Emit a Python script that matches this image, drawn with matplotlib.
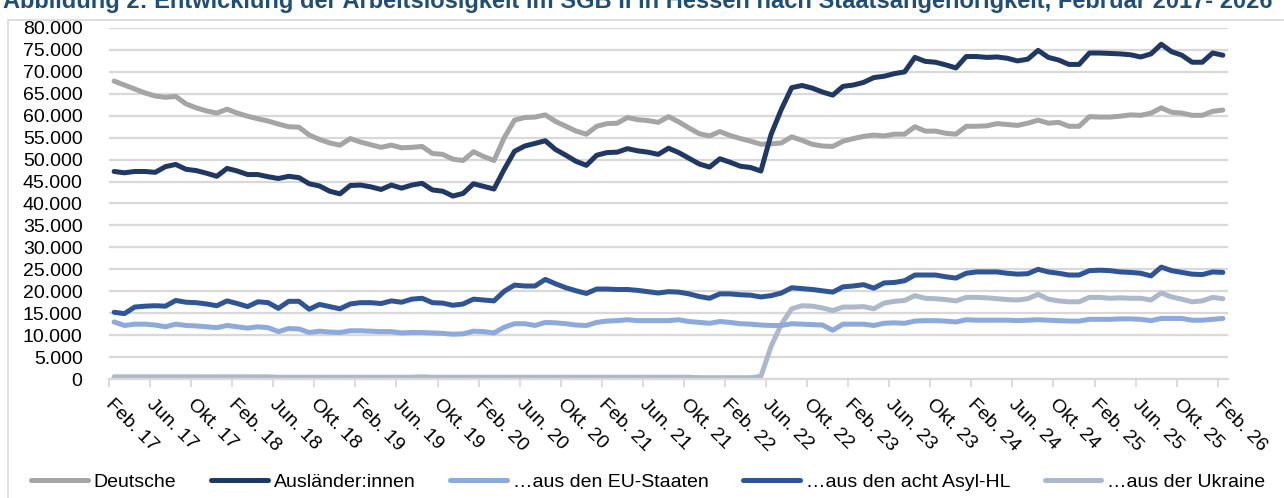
import numpy as np
import matplotlib
matplotlib.use("Agg")
import matplotlib.pyplot as plt
from matplotlib.patches import Rectangle
from matplotlib.ticker import FuncFormatter

plt.rcParams['font.family'] = ['Liberation Sans', 'DejaVu Sans']

# Arbeitslose im SGB II, Hessen, Feb. 2017 - Feb. 2026 (in Tsd.)
deutsche = [67.9, 67.0, 66.1, 65.2, 64.5, 64.2, 64.4, 62.7, 61.8, 61.1, 60.6, 61.5, 60.6, 59.9, 59.3, 58.8,
            58.1, 57.5, 57.4, 55.6, 54.6, 53.8, 53.3, 54.8, 54.0, 53.4, 52.8, 53.3, 52.7, 52.8, 53.0, 51.4,
            51.2, 50.1, 49.8, 51.8, 50.7, 49.8, 55.0, 59.0, 59.6, 59.7, 60.2, 58.7, 57.6, 56.5, 55.8, 57.6,
            58.2, 58.3, 59.6, 59.1, 58.9, 58.5, 59.8, 58.6, 57.2, 55.9, 55.4, 56.4, 55.5, 54.8, 54.2, 53.5,
            53.6, 53.8, 55.2, 54.4, 53.5, 53.1, 53.0, 54.2, 54.8, 55.3, 55.6, 55.4, 55.8, 55.8, 57.5, 56.5,
            56.5, 56.0, 55.8, 57.6, 57.6, 57.7, 58.2, 58.0, 57.8, 58.3, 59.0, 58.3, 58.5, 57.6, 57.6, 59.8,
            59.7, 59.7, 59.9, 60.2, 60.1, 60.6, 61.8, 60.8, 60.6, 60.1, 60.1, 61.0, 61.3]
auslaender = [47.3, 47.0, 47.3, 47.3, 47.1, 48.4, 48.9, 47.8, 47.5, 46.9, 46.2, 48.0, 47.4, 46.6, 46.6, 46.1,
              45.7, 46.2, 45.9, 44.5, 44.0, 42.8, 42.2, 44.1, 44.2, 43.8, 43.2, 44.2, 43.5, 44.2, 44.6, 43.1,
              42.8, 41.7, 42.3, 44.5, 43.9, 43.3, 47.8, 51.9, 53.1, 53.7, 54.3, 52.3, 51.0, 49.6, 48.7, 51.0,
              51.6, 51.7, 52.5, 52.0, 51.7, 51.2, 52.6, 51.6, 50.3, 49.0, 48.3, 50.2, 49.4, 48.5, 48.2, 47.4,
              55.8, 61.5, 66.4, 66.9, 66.3, 65.4, 64.7, 66.7, 67.0, 67.6, 68.7, 69.0, 69.6, 70.0, 73.3, 72.4,
              72.2, 71.6, 70.9, 73.5, 73.5, 73.3, 73.4, 73.1, 72.5, 72.9, 74.9, 73.3, 72.7, 71.7, 71.7, 74.3,
              74.3, 74.2, 74.1, 73.9, 73.4, 74.1, 76.3, 74.6, 73.8, 72.2, 72.2, 74.3, 73.8]
eu_staaten = [13.0, 12.2, 12.5, 12.5, 12.3, 11.9, 12.5, 12.2, 12.1, 11.9, 11.7, 12.2, 11.9, 11.6, 11.9, 11.7,
              10.8, 11.5, 11.4, 10.6, 10.9, 10.7, 10.6, 11.0, 11.0, 10.9, 10.8, 10.8, 10.5, 10.6, 10.6, 10.5,
              10.4, 10.2, 10.3, 10.9, 10.8, 10.5, 11.8, 12.6, 12.6, 12.2, 12.9, 12.8, 12.6, 12.3, 12.2, 12.9,
              13.2, 13.3, 13.5, 13.3, 13.3, 13.3, 13.3, 13.5, 13.1, 12.9, 12.7, 13.1, 12.9, 12.6, 12.5, 12.3,
              12.2, 12.2, 12.6, 12.5, 12.4, 12.3, 11.1, 12.5, 12.5, 12.5, 12.2, 12.7, 12.8, 12.7, 13.2, 13.3,
              13.3, 13.2, 13.0, 13.5, 13.4, 13.4, 13.4, 13.4, 13.3, 13.4, 13.5, 13.4, 13.3, 13.2, 13.2, 13.6,
              13.6, 13.6, 13.7, 13.7, 13.6, 13.3, 13.8, 13.8, 13.8, 13.4, 13.4, 13.6, 13.8]
asyl_hl = [15.2, 14.9, 16.4, 16.6, 16.7, 16.6, 17.9, 17.5, 17.4, 17.1, 16.7, 17.8, 17.2, 16.5, 17.6, 17.4,
           16.1, 17.7, 17.7, 15.9, 17.0, 16.5, 16.0, 17.1, 17.4, 17.4, 17.2, 17.8, 17.5, 18.2, 18.4, 17.4,
           17.3, 16.8, 17.1, 18.2, 18.0, 17.8, 20.0, 21.4, 21.2, 21.2, 22.7, 21.7, 20.8, 20.1, 19.5, 20.5,
           20.5, 20.4, 20.4, 20.2, 19.9, 19.6, 19.9, 19.8, 19.4, 18.8, 18.4, 19.4, 19.4, 19.2, 19.1, 18.7,
           19.0, 19.6, 20.8, 20.6, 20.4, 20.1, 19.8, 21.0, 21.2, 21.5, 20.7, 21.9, 22.0, 22.4, 23.7, 23.7,
           23.7, 23.3, 23.0, 24.1, 24.4, 24.4, 24.4, 24.1, 23.9, 24.0, 25.0, 24.4, 24.1, 23.7, 23.7, 24.7,
           24.8, 24.7, 24.4, 24.3, 24.1, 23.5, 25.5, 24.7, 24.3, 23.9, 23.8, 24.4, 24.3]
ukraine = [0.5, 0.5, 0.5, 0.5, 0.5, 0.5, 0.5, 0.5, 0.5, 0.5, 0.5, 0.5, 0.5, 0.5, 0.5, 0.5,
           0.4, 0.4, 0.4, 0.4, 0.4, 0.4, 0.4, 0.4, 0.4, 0.4, 0.4, 0.4, 0.4, 0.4, 0.5, 0.4,
           0.4, 0.4, 0.4, 0.4, 0.4, 0.4, 0.4, 0.4, 0.4, 0.4, 0.4, 0.4, 0.4, 0.4, 0.4, 0.4,
           0.4, 0.4, 0.4, 0.4, 0.4, 0.4, 0.4, 0.4, 0.4, 0.3, 0.3, 0.3, 0.3, 0.3, 0.3, 0.6,
           7.5, 12.5, 16.0, 16.7, 16.6, 16.2, 15.6, 16.4, 16.4, 16.5, 16.0, 17.3, 17.7, 17.9, 19.0, 18.4,
           18.3, 18.1, 17.8, 18.6, 18.6, 18.5, 18.3, 18.1, 18.0, 18.3, 19.3, 18.2, 17.8, 17.6, 17.6, 18.6,
           18.6, 18.4, 18.5, 18.4, 18.4, 18.0, 19.6, 18.7, 18.2, 17.6, 17.8, 18.6, 18.3]

tick_labels = ["Feb. 17", "Jun. 17", "Okt. 17", "Feb. 18", "Jun. 18", "Okt. 18", "Feb. 19",
               "Jun. 19", "Okt. 19", "Feb. 20", "Jun. 20", "Okt. 20", "Feb. 21", "Jun. 21",
               "Okt. 21", "Feb. 22", "Jun. 22", "Okt. 22", "Feb. 23", "Jun. 23", "Okt. 23",
               "Feb. 24", "Jun. 24", "Okt. 24", "Feb. 25", "Jun. 25", "Okt. 25", "Feb. 26"]

series = [
    ("Deutsche", deutsche, "#A5A5A5"),
    ("Ausländer:innen", auslaender, "#1F3864"),
    ("\u2026aus den EU-Staaten", eu_staaten, "#8EA9DB"),
    ("\u2026aus den acht Asyl-HL", asyl_hl, "#2F5597"),
    ("\u2026aus der Ukraine", ukraine, "#ADB9CA"),
]

fig = plt.figure(figsize=(12.84, 4.98), dpi=100)
ax = fig.add_axes([109 / 1284, 1 - 379 / 498, (1228 - 109) / 1284, 351 / 498])

x = np.arange(len(deutsche))
handles = []
for name, vals, col in series:
    ln, = ax.plot(x, np.array(vals) * 1000, color=col, lw=3.6, label=name,
                  solid_joinstyle='round', solid_capstyle='round')
    handles.append(ln)
# Ukraine-Linie unter den anderen
handles[4].set_zorder(1.9)

ax.set_ylim(0, 80000)
ax.set_yticks(np.arange(0, 80001, 5000))
ax.yaxis.set_major_formatter(FuncFormatter(lambda v, p: f"{int(v):,}".replace(",", ".")))
ax.grid(axis='y', color='#D9D9D9', lw=1.6)
ax.set_axisbelow(True)

ax.set_xlim(-0.5, len(deutsche) - 0.5)
ax.set_xticks(np.arange(0, len(deutsche), 4))
ax.set_xticklabels(tick_labels, rotation=-45, ha='left', va='top', rotation_mode='anchor')
ax.set_xticks(np.arange(-0.5, len(deutsche) - 1, 4), minor=True)
ax.tick_params(axis='x', which='major', length=0, pad=12, labelsize=14)
ax.tick_params(axis='x', which='minor', length=6, width=1.3, color='#D9D9D9')
ax.tick_params(axis='y', length=0, pad=19, labelsize=14)

for s in ['top', 'right', 'left']:
    ax.spines[s].set_visible(False)
ax.spines['bottom'].set_color('#D9D9D9')
ax.spines['bottom'].set_linewidth(1.6)

# Rahmen des Diagrammbereichs
fig.patches.append(Rectangle((8 / 1284, -0.1), 1.2, 1.1 - 20 / 498, transform=fig.transFigure,
                             fill=False, edgecolor='#D9D9D9', lw=1.2))

# Titel, oben angeschnitten wie im Original
fig.text(3 / 1284, 1 - 8 / 498,
         "Abbildung 2: Entwicklung der Arbeitslosigkeit im SGB II in Hessen nach Staatsangehörigkeit, Februar 2017- 2026",
         ha='left', va='baseline', fontsize=17, fontweight='bold', color='#1F4E79')

fig.legend(handles=handles, loc='center', bbox_to_anchor=(0.505, 1 - 482 / 498), ncol=5,
           frameon=False, fontsize=14, handlelength=2.9, handletextpad=0.3, columnspacing=1.8)

fig.savefig("out.png", dpi=100)
